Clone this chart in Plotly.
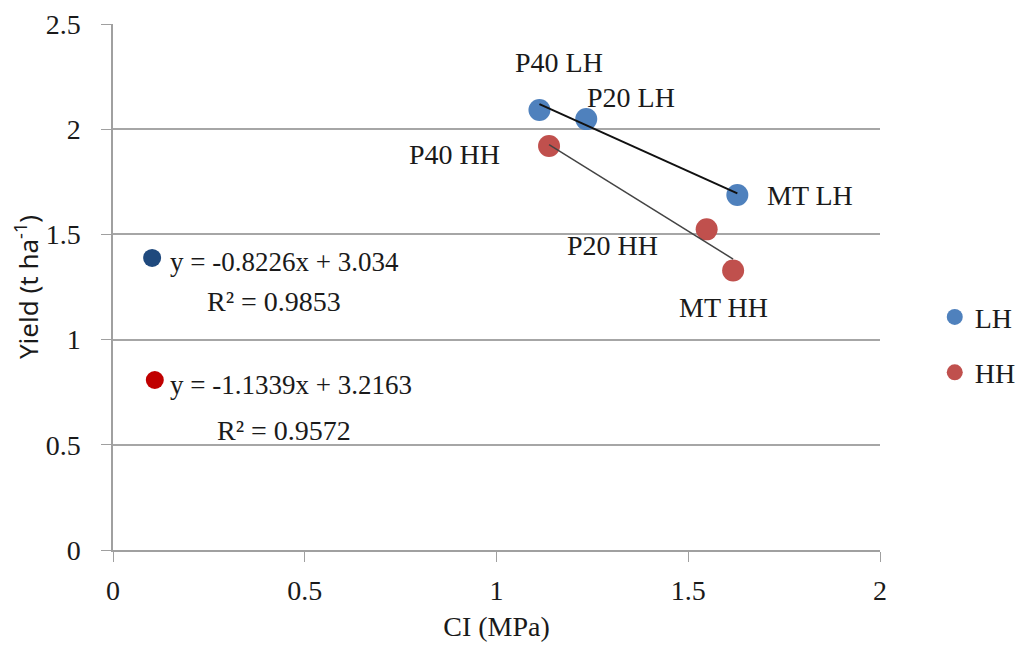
import plotly.graph_objects as go

# Data
lh_x = [1.112, 1.234, 1.628]
lh_y = [2.091, 2.048, 1.687]
lh_labels = ["P40 LH", "P20 LH", "MT LH"]
hh_x = [1.137, 1.548, 1.617]
hh_y = [1.920, 1.524, 1.328]
hh_labels = ["P40 HH", "P20 HH", "MT HH"]
lh_fit = (-0.8226, 3.034)
hh_fit = (-1.1339, 3.2163)
eq_marker_x = [0.102, 0.109]
eq_marker_y = [1.388, 0.808]
eq_texts = ["y = -0.8226x + 3.034", "y = -1.1339x + 3.2163"]
r2_texts = ["R² = 0.9853", "R² = 0.9572"]

FONT = "Liberation Serif"
FS = 28
C_LH = "#4f81bd"
C_HH = "#c0504d"
TXT = "#1a1a1a"

fig = go.Figure()

fig.add_trace(go.Scatter(x=lh_x, y=lh_y, mode="markers", name="LH",
                         marker=dict(size=22, color=C_LH), legendgroup="a"))
fig.add_trace(go.Scatter(x=hh_x, y=hh_y, mode="markers", name="HH",
                         marker=dict(size=22, color=C_HH), legendgroup="b"))

# Trend lines from the fitted equations
def line(xs, fit):
    x0, x1 = min(xs), max(xs)
    return [x0, x1], [fit[0] * x0 + fit[1], fit[0] * x1 + fit[1]]

tx, ty = line(lh_x, lh_fit)
fig.add_trace(go.Scatter(x=tx, y=ty, mode="lines", line=dict(color="#111111", width=2),
                         showlegend=False, hoverinfo="skip"))
tx, ty = line(hh_x, hh_fit)
fig.add_trace(go.Scatter(x=tx, y=ty, mode="lines", line=dict(color="#444444", width=1.5),
                         showlegend=False, hoverinfo="skip"))

# Equation markers
fig.add_trace(go.Scatter(x=eq_marker_x, y=eq_marker_y, mode="markers",
                         marker=dict(size=18, color=["#1f497d", "#c00000"]),
                         showlegend=False, hoverinfo="skip"))

annots = []
# point label offsets in px (right, down)
lh_off = [(20, -48), (45, -22), (73, 0)]
hh_off = [(-95, 8), (-94, 16), (-10, 37)]
for x, y, t, (ax, ay) in zip(lh_x, lh_y, lh_labels, lh_off):
    annots.append(dict(x=x, y=y, text=t, showarrow=False, xshift=ax, yshift=-ay,
                       font=dict(family=FONT, size=FS, color=TXT)))
for x, y, t, (ax, ay) in zip(hh_x, hh_y, hh_labels, hh_off):
    annots.append(dict(x=x, y=y, text=t, showarrow=False, xshift=ax, yshift=-ay,
                       font=dict(family=FONT, size=FS, color=TXT)))

eq_pos = [(0.143, 1.369), (0.143, 0.784)]
r2_pos = [(0.24, 1.179), (0.266, 0.570)]
for (x, y), t in zip(eq_pos, eq_texts):
    annots.append(dict(x=x, y=y, text=t, showarrow=False, xanchor="left",
                       font=dict(family=FONT, size=27, color=TXT)))
for (x, y), t in zip(r2_pos, r2_texts):
    annots.append(dict(x=x, y=y, text=t, showarrow=False, xanchor="left",
                       font=dict(family=FONT, size=FS, color=TXT)))

fig.update_layout(
    width=1024, height=660,
    margin=dict(l=105, r=151, t=16, b=118),
    paper_bgcolor="white", plot_bgcolor="white",
    font=dict(family=FONT, size=FS, color=TXT),
    annotations=annots,
    showlegend=True,
    legend=dict(x=1.070, y=0.49, xanchor="left", yanchor="top",
                font=dict(family=FONT, size=FS, color=TXT), tracegroupgap=16,
                itemwidth=30, bgcolor="rgba(0,0,0,0)"),
    xaxis=dict(range=[0, 2], dtick=0.5, showgrid=False, zeroline=False,
               showline=True, linecolor="#a0a0a0", linewidth=1.5,
               ticks="outside", ticklen=10, tickcolor="#a0a0a0",
               ticklabelstandoff=5, automargin=False,
               tickfont=dict(family=FONT, size=FS, color=TXT),
               title=dict(text="CI (MPa)", font=dict(family=FONT, size=FS, color=TXT), standoff=11)),
    yaxis=dict(range=[0, 2.5], dtick=0.5, showgrid=True, gridcolor="#a6a6a6", gridwidth=1.5,
               zeroline=False, showline=True, linecolor="#a0a0a0", linewidth=1.5,
               ticks="outside", ticklen=10, tickcolor="#a0a0a0",
               ticklabelstandoff=15, automargin=False,
               tickfont=dict(family=FONT, size=FS, color=TXT),
               title=dict(text="Yield (t ha<sup>-1</sup>)",
                          font=dict(family="Noto Sans", size=26, color=TXT), standoff=20)),
)

fig.write_html("out.html")
